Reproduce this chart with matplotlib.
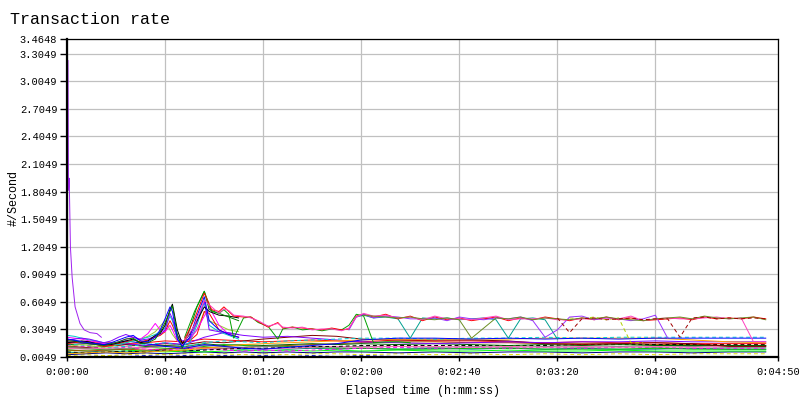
import matplotlib
matplotlib.use("Agg")
import matplotlib.pyplot as plt
import numpy as np
from matplotlib.ticker import FuncFormatter

nan = np.nan

# purple startup curve
t_start = [0.4, 0.6, 0.9, 1.4, 2.1, 3.3, 5.3, 7, 9.4, 12.2, 14]
v_start = [3.23, 1.82, 1.95, 1.2, 0.87, 0.55, 0.37, 0.30, 0.27, 0.26, 0.22]

# lines that build the two early spikes
t_spike = [0, 3, 6, 9, 12, 15, 18, 21, 24, 27, 30, 33, 36, 38, 40, 42, 43, 45, 47, 50, 53, 56, 58, 62, 66, 70]
spike_blue = [0.20, 0.19, 0.17, 0.16, 0.15, 0.14, 0.16, 0.19, 0.22, 0.24, 0.18, 0.17, 0.22, 0.30, 0.42, 0.55, 0.50, 0.20, 0.12, 0.22, 0.45, 0.66, 0.40, 0.30, 0.25, 0.22]
spike_green = [0.18, 0.18, 0.16, 0.15, 0.14, 0.13, 0.15, 0.17, 0.20, 0.21, 0.15, 0.16, 0.20, 0.28, 0.38, 0.50, 0.56, 0.25, 0.10, 0.30, 0.55, 0.72, 0.52, 0.48, 0.44, 0.40]
spike_black = [0.16, 0.17, 0.18, 0.17, 0.15, 0.14, 0.14, 0.16, 0.18, 0.20, 0.16, 0.18, 0.24, 0.26, 0.35, 0.52, 0.58, 0.30, 0.15, 0.25, 0.40, 0.55, 0.50, 0.46, 0.45, 0.43]
spike_magenta = [0.22, 0.21, 0.20, 0.18, 0.17, 0.15, 0.14, 0.17, 0.20, 0.22, 0.20, 0.26, 0.37, 0.30, 0.28, 0.35, 0.30, 0.18, 0.14, 0.20, 0.30, 0.45, 0.55, 0.35, 0.25, 0.22]
spike_red = [0.15, 0.16, 0.17, 0.16, 0.14, 0.12, 0.13, 0.15, 0.17, 0.19, 0.17, 0.19, 0.22, 0.24, 0.28, 0.40, 0.35, 0.22, 0.16, 0.18, 0.25, 0.50, 0.48, 0.30, 0.25, 0.22]
spike_cyan = [0.24, 0.23, 0.21, 0.19, 0.18, 0.16, 0.15, 0.14, 0.16, 0.18, 0.20, 0.22, 0.25, 0.28, 0.32, 0.45, 0.40, 0.20, 0.13, 0.16, 0.35, 0.60, 0.35, 0.28, 0.24, 0.20]
spike_purple = [0.19, 0.20, 0.21, 0.20, 0.18, 0.16, 0.18, 0.22, 0.25, 0.22, 0.19, 0.20, 0.23, 0.25, 0.30, 0.48, 0.42, 0.24, 0.18, 0.20, 0.38, 0.62, 0.30, 0.28, 0.27, 0.25]
spike_yg = [0.12, 0.13, 0.14, 0.13, 0.12, 0.11, 0.12, 0.14, 0.16, 0.18, 0.20, 0.23, 0.28, 0.34, 0.40, 0.30, 0.25, 0.18, 0.15, 0.20, 0.30, 0.50, 0.40, 0.35, 0.30, 0.28]

# upper band (~0.3 - 0.5)
t_band = [48, 52, 56, 59, 62, 64, 66, 68, 72, 75, 78, 82, 86, 88, 92, 96, 100, 104, 108, 112, 115, 118, 121,
          125, 130, 135, 140, 145, 150, 155, 160, 165, 170, 175, 180, 185, 190, 195, 200, 205, 210, 215, 220,
          225, 230, 235, 240, 245, 250, 255, 260, 265, 270, 275, 280, 285]
band_red = [0.20, 0.42, 0.70, 0.52, 0.50, 0.55, 0.50, 0.45, 0.44, 0.44, 0.39, 0.33, 0.38, 0.32, 0.33, 0.32, 0.31, 0.30, 0.32, 0.30, 0.31, 0.45, 0.47,
            0.44, 0.47, 0.42, 0.45, 0.40, 0.44, 0.41, 0.43, 0.40, 0.42, 0.44, 0.40, 0.43, 0.41, 0.44, 0.42, 0.40, 0.43, 0.41, 0.44,
            0.41, 0.43, 0.40, 0.41, 0.42, 0.43, 0.41, 0.44, 0.42, 0.43, 0.42, 0.44, 0.42]
band_magenta = [0.18, 0.35, 0.62, 0.55, 0.48, 0.53, 0.51, 0.46, 0.45, 0.43, 0.40, 0.34, 0.37, 0.33, 0.32, 0.33, 0.30, 0.31, 0.31, 0.29, 0.32, 0.44, 0.48,
                0.45, 0.46, 0.43, 0.44, 0.41, 0.45, 0.42, 0.42, 0.41, 0.43, 0.45, 0.41, 0.42, 0.42, 0.43, 0.41, 0.41, 0.42, 0.42, 0.43,
                0.42, 0.45, 0.40, 0.42, 0.43, 0.42, 0.42, 0.43, 0.44, 0.42, 0.43, 0.17, 0.17]
band_purple = [nan] * 20 + [0.30, 0.44, 0.47,
               0.43, 0.45, 0.44, 0.42, 0.42, 0.43, 0.40, 0.44, 0.42, 0.41, 0.43, 0.42, 0.44, 0.40, 0.22, 0.30, 0.44, 0.45, 0.41, 0.43,
               0.42, 0.40, 0.42, 0.46, 0.21] + [nan] * 8
band_green = [0.22, 0.50, 0.72, 0.50, 0.48, 0.52, 0.47, 0.21, 0.43, 0.44, 0.38, 0.34, 0.20, 0.31, 0.33, 0.30, 0.31, 0.29, 0.31, 0.30, 0.35, 0.47, 0.45,
              0.16, 0.17, 0.17, 0.16] + [nan] * 29
band_olive = [nan] * 22 + [0.46,
              0.45, 0.44, 0.43, 0.44, 0.42, 0.41, 0.43, 0.41, 0.21, 0.32, 0.43, 0.42, 0.44, 0.41, 0.43, 0.42, 0.41, 0.43, 0.42, 0.44,
              0.42, 0.41, 0.40, 0.42, 0.43, 0.44, 0.42, 0.45, 0.43, 0.42, 0.43, 0.44, 0.41]
band_teal = [nan] * 21 + [0.44, 0.46,
             0.43, 0.44, 0.42, 0.21, 0.43, 0.42, 0.43, 0.41, 0.42, 0.43, 0.41, 0.21, 0.42, 0.43, 0.41, 0.20] + [nan] * 17
band_maroon = [nan] * 38 + [0.43, 0.27, 0.42, 0.43, 0.41, 0.42, 0.43, 0.41, 0.42, 0.42, 0.22, 0.43, 0.44, 0.42, 0.43, 0.42, 0.43, 0.42]
band_yg = [nan] * 39 + [0.43, 0.42, 0.44, 0.41, 0.43, 0.16, 0.16] + [nan] * 10

# lower band lines
t_low = [0, 8, 16, 24, 32, 40, 48, 56, 64, 72, 80, 90, 100, 110, 120, 135, 150, 165, 180, 195, 210, 225, 240, 255, 270, 285]
low_blue = [0.20, 0.16, 0.14, 0.18, 0.15, 0.12, 0.10, 0.14, 0.12, 0.10, 0.09, 0.11, 0.13, 0.15, 0.19, 0.21, 0.21, 0.20, 0.21, 0.20, 0.21, 0.20, 0.21, 0.21, 0.21, 0.21]
low_cyan = [0.15, 0.13, 0.11, 0.12, 0.14, 0.16, 0.12, 0.16, 0.18, 0.17, 0.16, 0.18, 0.19, 0.20, 0.21, 0.21, 0.20, 0.21, 0.21, 0.22, 0.21, 0.22, 0.22, 0.22, 0.22, 0.22]
low_maroon = [0.12, 0.11, 0.12, 0.14, 0.13, 0.15, 0.14, 0.17, 0.16, 0.18, 0.20, 0.22, 0.24, 0.23, 0.20, 0.19, 0.19, 0.19, 0.18, 0.15, 0.14, 0.15, 0.16, 0.15, 0.12, 0.12]
low_black = [0.06, 0.05, 0.06, 0.07, 0.06, 0.08, 0.07, 0.08, 0.09, 0.10, 0.10, 0.11, 0.12, 0.12, 0.13, 0.13, 0.13, 0.13, 0.13, 0.13, 0.14, 0.14, 0.14, 0.14, 0.14, 0.14]
low_green = [0.09, 0.10, 0.08, 0.09, 0.11, 0.10, 0.09, 0.12, 0.14, 0.13, 0.12, 0.12, 0.11, 0.10, 0.10, 0.09, 0.09, 0.10, 0.10, 0.09, 0.09, 0.09, 0.10, 0.09, 0.09, 0.09]
low_orange = [0.04, 0.05, 0.06, 0.05, 0.06, 0.07, 0.08, 0.10, 0.12, 0.14, 0.15, 0.16, 0.17, 0.18, 0.19, 0.20, 0.20, 0.20, 0.20, 0.21, 0.21, 0.21, 0.21, 0.19, 0.17, 0.16]
low_magenta = [0.13, 0.12, 0.10, 0.11, 0.09, 0.08, 0.10, 0.09, 0.08, 0.07, 0.08, 0.07, 0.08, 0.09, 0.10, 0.11, 0.10, 0.11, 0.10, 0.11, 0.10, 0.11, 0.11, 0.10, 0.10, 0.10]
low_lime = [0.07, 0.08, 0.09, 0.08, 0.07, 0.06, 0.07, 0.06, 0.07, 0.08, 0.07, 0.08, 0.07, 0.08, 0.07, 0.08, 0.07, 0.07, 0.08, 0.07, 0.07, 0.08, 0.07, 0.07, 0.07, 0.07]
low_navy = [0.03, 0.04, 0.05, 0.04, 0.05, 0.04, 0.05, 0.06, 0.05, 0.06, 0.05, 0.06, 0.05, 0.06, 0.06, 0.05, 0.06, 0.05, 0.06, 0.06, 0.05, 0.06, 0.06, 0.05, 0.06, 0.06]
low_gray = [0.11, 0.10, 0.09, 0.10, 0.11, 0.12, 0.11, 0.13, 0.12, 0.11, 0.12, 0.11, 0.12, 0.11, 0.12, 0.12, 0.11, 0.12, 0.11, 0.12, 0.11, 0.12, 0.11, 0.12, 0.11, 0.11]
low_purple = [0.17, 0.15, 0.13, 0.15, 0.13, 0.16, 0.14, 0.22, 0.27, 0.24, 0.22, 0.23, 0.21, 0.19, 0.17, 0.16, 0.15, 0.16, 0.17, 0.16, 0.17, 0.17, 0.18, 0.17, 0.17, 0.17]
low_teal = [0.05, 0.06, 0.07, 0.06, 0.07, 0.08, 0.07, 0.09, 0.10, 0.09, 0.10, 0.09, 0.10, 0.09, 0.10, 0.09, 0.10, 0.09, 0.10, 0.09, 0.10, 0.09, 0.09, 0.10, 0.09, 0.09]
low_yellow = [0.02, 0.03, 0.02, 0.03, 0.04, 0.03, 0.04, 0.03, 0.04, 0.03, 0.04, 0.03, 0.04, 0.04, 0.03, 0.04, 0.03, 0.04, 0.03, 0.04, 0.03, 0.04, 0.03, 0.04, 0.04, 0.04]
low_brown = [0.08, 0.07, 0.08, 0.09, 0.08, 0.09, 0.10, 0.11, 0.10, 0.11, 0.12, 0.13, 0.14, 0.15, 0.16, 0.17, 0.17, 0.16, 0.16, 0.15, 0.15, 0.15, 0.14, 0.14, 0.13, 0.13]
low_pink = [0.10, 0.09, 0.10, 0.12, 0.10, 0.13, 0.12, 0.10, 0.09, 0.10, 0.09, 0.10, 0.11, 0.12, 0.11, 0.12, 0.12, 0.11, 0.12, 0.11, 0.12, 0.11, 0.12, 0.11, 0.12, 0.12]
low_bottom = [0.01, 0.01, 0.02, 0.01, 0.02, 0.01, 0.02, 0.01, 0.02, 0.01, 0.02, 0.01, 0.02, 0.01, 0.02, 0.01, 0.01, 0.01, 0.01, 0.01, 0.01, 0.01, 0.01, 0.01, 0.01, 0.01]
low_red = [0.18, 0.17, 0.16, 0.15, 0.16, 0.18, 0.17, 0.20, 0.19, 0.18, 0.17, 0.18, 0.19, 0.18, 0.17, 0.19, 0.18, 0.18, 0.17, 0.16, 0.17, 0.16, 0.16, 0.15, 0.15, 0.15]
low_dkgreen = [0.14, 0.15, 0.13, 0.14, 0.12, 0.13, 0.12, 0.15, 0.13, 0.14, 0.13, 0.14, 0.15, 0.14, 0.15, 0.14, 0.15, 0.14, 0.13, 0.14, 0.13, 0.14, 0.13, 0.13, 0.13, 0.13]

y_ticks = [0.0049, 0.3049, 0.6049, 0.9049, 1.2049, 1.5049, 1.8049, 2.1049, 2.4049, 2.7049, 3.0049, 3.3049, 3.4648]
x_ticks = [0, 40, 80, 120, 160, 200, 240, 290]

low_series = [
    (low_bottom, "#0000cc", "--"), (low_yellow, "#e0e000", "--"), (low_navy, "#000080", "-"),
    (low_teal, "#008080", "-"), (low_lime, "#00ff00", "-"), (low_green, "#00c000", "-"),
    (low_brown, "#a05000", "-"), (low_magenta, "#ff00ff", "--"), (low_gray, "#808080", "-"),
    (low_pink, "#ff69b4", "-"), (low_black, "#000000", "--"), (low_dkgreen, "#006400", "-"),
    (low_red, "#ff0000", "-"), (low_maroon, "#800000", "-"), (low_purple, "#8000ff", "-"),
    (low_orange, "#ffa500", "-"), (low_cyan, "#00d0d0", "--"), (low_blue, "#0000ff", "-"),
]
spike_series = [
    (spike_yg, "#9acd32"), (spike_red, "#ff0000"), (spike_cyan, "#00c8c8"), (spike_magenta, "#ff00ff"),
    (spike_purple, "#8000ff"), (spike_black, "#000000"), (spike_green, "#008000"), (spike_blue, "#0000ff"),
]
band_series = [
    (band_teal, "#00a090", "-"), (band_green, "#00a000", "-"), (band_yg, "#b0d000", "--"),
    (band_red, "#ff0000", "-"), (band_purple, "#9933ff", "-"), (band_magenta, "#ff40c0", "-"),
    (band_olive, "#6b8e23", "-"), (band_maroon, "#a00000", "--"),
]

fig = plt.figure(figsize=(8, 4), dpi=100)
ax = fig.add_axes([67 / 800, 43 / 400, 711 / 800, 318 / 400])

lw = 0.7
for vals, col, ls in low_series:
    ax.plot(t_low, vals, color=col, ls=ls, lw=lw, dashes=(4, 3) if ls == "--" else (None, None))
for vals, col in spike_series:
    ax.plot(t_spike, vals, color=col, lw=lw)
for vals, col, ls in band_series:
    ax.plot(t_band, vals, color=col, ls=ls, lw=lw, dashes=(4, 3) if ls == "--" else (None, None))
ax.plot(t_start, v_start, color="#a020f0", lw=lw)

ax.set_xlim(0, 290)
ax.set_ylim(0.0049, 3.4648)
ax.set_xticks(x_ticks)
ax.set_yticks(y_ticks)


def hms(s, pos):
    s = int(round(s))
    return "%d:%02d:%02d" % (s // 3600, (s % 3600) // 60, s % 60)


ax.xaxis.set_major_formatter(FuncFormatter(hms))
ax.set_yticklabels(["%.4f" % v for v in y_ticks])

mono = "Liberation Mono"
ax.tick_params(axis="both", labelsize=7.5, colors="black", width=1)
ax.tick_params(axis="y", length=5, pad=2)
ax.tick_params(axis="x", length=3, pad=4)
for lab in ax.get_xticklabels() + ax.get_yticklabels():
    lab.set_family(mono)

ax.grid(True, color="#c0c0c0", lw=0.9)
ax.set_axisbelow(True)
for side in ["top", "right"]:
    ax.spines[side].set_linewidth(0.9)
for side in ["left", "bottom"]:
    ax.spines[side].set_linewidth(1.6)

ax.set_xlabel("Elapsed time (h:mm:ss)", family=mono, fontsize=8.5, labelpad=6)
ax.set_ylabel("#/Second", family=mono, fontsize=8.5)
ax.yaxis.set_label_coords(-0.066, 0.5)

fig.text(10 / 800, 1 - 19 / 400, "Transaction rate", family=mono, fontsize=12, va="center", ha="left")

fig.savefig("out.png", dpi=100)
